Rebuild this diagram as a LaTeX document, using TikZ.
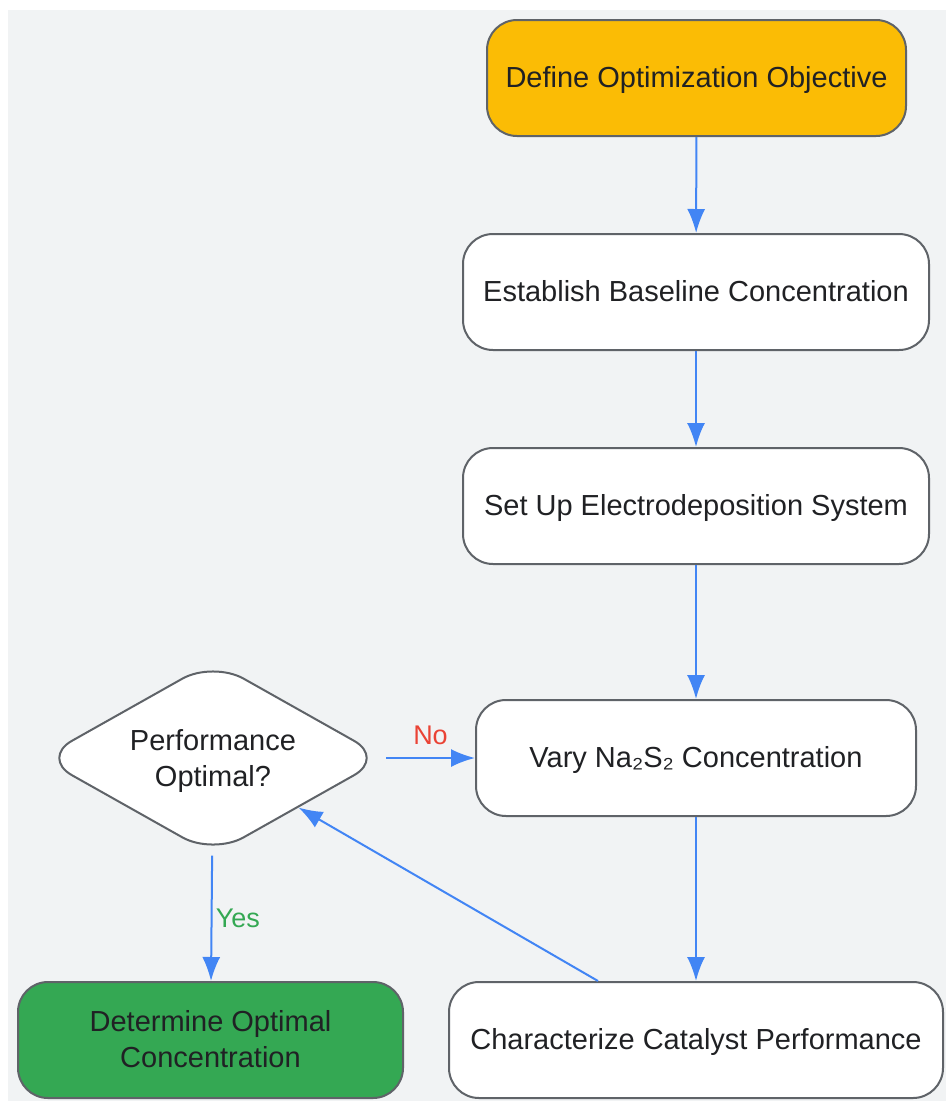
\documentclass[tikz,border=0pt]{standalone}
\usepackage{fontspec}
\setmainfont{Liberation Sans}
\usetikzlibrary{shapes.geometric,arrows.meta}
\definecolor{bggray}{HTML}{F1F3F4}
\definecolor{edgegray}{HTML}{5F6368}
\definecolor{ink}{HTML}{202124}
\definecolor{goal}{HTML}{FBBC05}
\definecolor{done}{HTML}{34A853}
\definecolor{flowblue}{HTML}{4285F4}
\definecolor{nored}{HTML}{EA4335}
\begin{document}
\begin{tikzpicture}[x=1pt,y=-1pt,>={Latex[length=24pt,width=18pt]},
    font=\fontsize{29}{36}\selectfont,
    box/.style={draw=edgegray,line width=2pt,rounded corners=30pt,fill=white,
      minimum height=116pt,inner sep=0pt,text=ink,align=center,text depth=3pt},
    choice/.style={diamond,aspect=1.77,draw=edgegray,line width=2pt,rounded corners=35pt,fill=white,
      minimum width=344pt,minimum height=194pt,inner sep=0pt,text=ink,align=center,text depth=0pt},
    flow/.style={->,draw=flowblue,line width=2pt},
    tag/.style={font=\fontsize{27}{32}\selectfont}]
    \useasboundingbox (0,0) rectangle (946,1101);
    \fill[bggray] (8,10) rectangle (946,1101);
    \node[box,fill=goal,minimum width=419pt] (obj)  at (696.5,78)  {Define Optimization Objective};
    \node[box,minimum width=466pt]           (base) at (696,292)   {Establish Baseline Concentration};
    \node[box,minimum width=466pt]           (sys)  at (696,506)   {Set Up Electrodeposition System};
    \node[box,minimum width=440pt]           (vary) at (696,758)   {Vary Na₂S₂ Concentration};
    \node[box,minimum width=494pt]           (char) at (696,1040)  {Characterize Catalyst Performance};
    \node[choice]                            (opt)  at (213,758)   {Performance\\Optimal?};
    \node[box,fill=done,minimum width=385pt] (best) at (210.5,1040) {Determine Optimal\\Concentration};
    \draw[flow] (obj) -- (base);
    \draw[flow] (base) -- (sys);
    \draw[flow] (sys) -- (vary);
    \draw[flow] (vary) -- (char);
    \draw[flow] ([xshift=-98pt]char.north) -- (opt);
    \draw[flow] (opt) -- node[tag,above=9pt,text=nored] {No} (vary);
    \draw[flow] (opt) -- node[tag,right,text=done] {Yes} (best);
  \end{tikzpicture}
\end{document}
